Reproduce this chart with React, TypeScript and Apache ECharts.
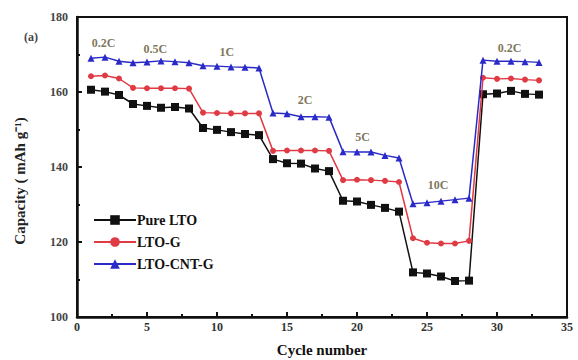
import React, { useEffect, useRef } from "react";
import * as echarts from "echarts";

const cycles = [1,2,3,4,5,6,7,8,9,10,11,12,13,14,15,16,17,18,19,20,21,22,23,24,25,26,27,28,29,30,31,32,33];
const pureLTO = [160.6,160.1,159.2,156.8,156.3,155.8,156.0,155.6,150.4,149.9,149.3,148.8,148.5,142.1,141.0,140.9,139.6,138.9,131.0,130.8,129.9,129.1,128.1,111.9,111.6,110.8,109.6,109.7,159.4,159.6,160.3,159.5,159.3];
const ltoG = [164.2,164.4,163.6,161.1,161.0,161.0,161.0,160.9,154.5,154.4,154.3,154.3,154.3,144.3,144.4,144.4,144.4,144.3,136.5,136.6,136.5,136.3,136.0,121.0,119.8,119.6,119.6,120.3,163.8,163.5,163.6,163.3,163.1];
const ltoCNTG = [169.0,169.3,168.2,167.8,168.0,168.3,168.1,167.8,167.0,166.9,166.7,166.6,166.4,154.4,154.2,153.4,153.4,153.3,144.1,144.0,144.0,143.1,142.4,130.2,130.5,130.9,131.3,131.7,168.5,168.2,168.2,168.1,167.9];
const seriesNames = ["Pure LTO", "LTO-G", "LTO-CNT-G"];
const rateLabels = ["0.2C", "0.5C", "1C", "2C", "5C", "10C", "0.2C"];
const rateLabelX = [1.9, 5.6, 10.7, 16.3, 20.4, 25.8, 30.9];
const rateLabelY = [173.0, 171.5, 170.6, 157.9, 148.0, 135.2, 171.8];
const xTicks = [0, 5, 10, 15, 20, 25, 30, 35];
const yTicks = [100, 120, 140, 160, 180];

const FONT = "'Liberation Serif', 'Times New Roman', serif";

export default function App() {
  const ref = useRef<HTMLDivElement>(null);
  useEffect(() => {
    if (!ref.current) return;
    document.body.style.margin = "0";
    const chart = echarts.init(ref.current, undefined, { renderer: "svg" });
    const pair = (vals: number[]) => cycles.map((c, i) => [c, vals[i]]);
    const colors = ["#111111", "#e03a44", "#2a2ac8"];
    const symbols = ["rect", "circle", "triangle"];
    const sizes = [8, 6, 7];
    const all = [pureLTO, ltoG, ltoCNTG];
    const option: any = {
      animation: false,
      backgroundColor: "#ffffff",
      textStyle: { fontFamily: FONT },
      grid: {
        left: 77, right: 11, top: 17, bottom: 43,
        outerBoundsMode: "none", containLabel: false,
        show: true, borderColor: "#111", borderWidth: 2,
      },
      legend: {
        left: 88, top: 208, orient: "vertical",
        itemWidth: 42, itemHeight: 12, itemGap: 8,
        data: seriesNames,
        textStyle: { fontFamily: FONT, fontWeight: "bold", fontSize: 14, color: "#111", padding: [0, 0, 0, -4] },
      },
      xAxis: {
        type: "value", min: xTicks[0], max: xTicks[xTicks.length - 1], interval: 5,
        name: "Cycle number", nameLocation: "middle", nameGap: 25,
        nameTextStyle: { fontFamily: FONT, fontWeight: "bold", fontSize: 15, color: "#111" },
        axisLine: { lineStyle: { color: "#111", width: 2.5 } },
        axisTick: { inside: true, length: 5, lineStyle: { width: 2, color: "#111" } },
        minorTick: { show: true, splitNumber: 2, length: 3, lineStyle: { width: 2, color: "#111" } },
        axisLabel: { fontFamily: FONT, fontWeight: "bold", fontSize: 12, color: "#333", margin: 4 },
        splitLine: { show: false },
      },
      yAxis: {
        type: "value", min: yTicks[0], max: yTicks[yTicks.length - 1], interval: 20,
        name: "Capacity ( mAh g\u207B\u00B9)", nameLocation: "middle", nameGap: 50, nameRotate: 90,
        nameTextStyle: { fontFamily: FONT, fontWeight: "bold", fontSize: 15, color: "#222", padding: [0, 28, 0, 0] },
        axisLine: { lineStyle: { color: "#111", width: 2.5 } },
        axisTick: { inside: true, length: 5, lineStyle: { width: 2, color: "#111" } },
        minorTick: { show: true, splitNumber: 2, length: 3, lineStyle: { width: 2, color: "#111" } },
        axisLabel: { fontFamily: FONT, fontWeight: "bold", fontSize: 12, color: "#444", margin: 9 },
        splitLine: { show: false },
      },
      graphic: [
        { type: "text", left: 24, top: 31, style: { text: "(a)", font: "bold 12px " + FONT, fill: "#444" } },
      ],
      series: [
        ...all.map((vals, i) => ({
          name: seriesNames[i], type: "line", data: pair(vals),
          symbol: symbols[i], symbolSize: sizes[i],
          itemStyle: { color: colors[i] },
          lineStyle: { color: colors[i], width: 1.5 },
          z: 3 + i,
        })),
        {
          type: "scatter", symbolSize: 0, silent: true,
          data: rateLabels.map((t, i) => ({ value: [rateLabelX[i], rateLabelY[i]], name: t })),
          label: {
            show: true, position: "inside", formatter: (p: any) => p.name,
            fontFamily: FONT, fontWeight: "bold", fontSize: 12, color: "#5a5230",
          },
          z: 10,
        },
      ],
    };
    chart.setOption(option);
    return () => chart.dispose();
  }, []);
  return <div ref={ref} style={{ width: 578, height: 360 }} />;
}
